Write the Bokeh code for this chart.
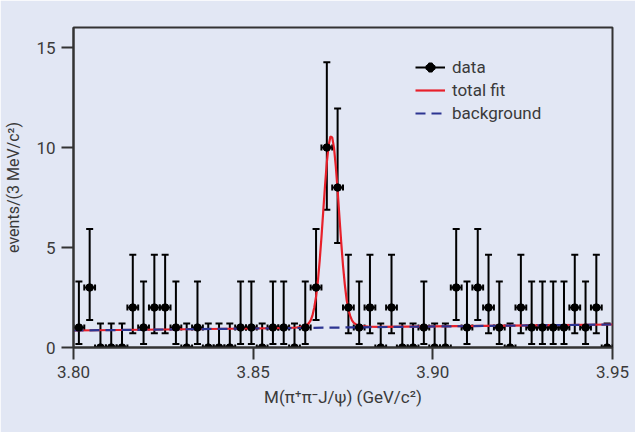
from bokeh.plotting import figure
from bokeh.models import (Range1d, FixedTicker, PrintfTickFormatter, Legend, LegendItem,
                          ColumnDataSource, Whisker, TeeHead)
from bokeh.embed import file_html
from bokeh.resources import INLINE

# ---------------- data ----------------
bin_low = 3.800
bin_width = 0.003
counts = [1, 3, 0, 0, 0, 2, 1, 2, 2, 1,
          0, 1, 0, 0, 0, 1, 1, 0, 1, 1,
          0, 1, 3, 10, 8, 2, 1, 2, 0, 2,
          0, 0, 1, 0, 0, 3, 1, 3, 2, 1,
          0, 2, 1, 1, 1, 1, 2, 1, 2, 0]
# asymmetric (Poisson-like) error sizes, per count value
err_lo_by_count = {0: 0.0, 1: 0.83, 2: 1.29, 3: 1.63, 8: 2.77, 10: 3.11}
err_hi_by_count = {0: 1.2, 1: 2.30, 2: 2.64, 3: 2.92, 8: 3.95, 10: 4.26}

# total fit curve
fit_mass = [3.800, 3.850, 3.860, 3.862, 3.863, 3.864, 3.865, 3.8655, 3.866, 3.8665,
            3.867, 3.8675, 3.868, 3.8685, 3.869, 3.8695, 3.870, 3.8705, 3.871, 3.8715,
            3.872, 3.8725, 3.873, 3.8735, 3.874, 3.8745, 3.875, 3.8755, 3.876, 3.8765,
            3.877, 3.8775, 3.878, 3.879, 3.880, 3.882, 3.885, 3.950]
fit_total = [0.85, 0.95, 0.98, 1.00, 1.02, 1.06, 1.13, 1.22, 1.36, 1.60,
             2.00, 2.54, 3.30, 4.32, 5.50, 6.81, 8.10, 9.26, 10.10, 10.55,
             10.50, 9.98, 9.05, 7.86, 6.55, 5.27, 4.10, 3.16, 2.40, 1.89,
             1.58, 1.36, 1.23, 1.12, 1.07, 1.04, 1.03, 1.15]
# background line
bkg_mass = [3.800, 3.950]
bkg_value = [0.85, 1.15]

x_ticks = [3.80, 3.85, 3.90, 3.95]
y_ticks = [0, 5, 10, 15]

# ---------------- derived columns ----------------
centers = [bin_low + bin_width * (i + 0.5) for i in range(len(counts))]
src = ColumnDataSource(dict(
    x=centers,
    y=counts,
    ylo=[c - err_lo_by_count[c] for c in counts],
    yhi=[c + err_hi_by_count[c] for c in counts],
    xlo=[x - bin_width / 2 for x in centers],
    xhi=[x + bin_width / 2 for x in centers],
))

BG = "#e2e7f4"
TXT = "#3a3a3a"
FONT = "Roboto"

p = figure(width=635, height=432, output_backend="svg", toolbar_location=None,
           x_range=Range1d(3.80, 3.95), y_range=Range1d(0, 16),
           min_border_left=73, min_border_right=23, min_border_top=27, min_border_bottom=85)
p.background_fill_color = BG
p.border_fill_color = BG
p.outline_line_color = "#333333"
p.outline_line_width = 2
p.grid.visible = False

# axes
for ax in (p.xaxis[0], p.yaxis[0]):
    ax.axis_line_color = "#333333"
    ax.axis_line_width = 2
    ax.major_tick_line_color = "#333333"
    ax.major_tick_line_width = 2
    ax.major_tick_in = 0
    ax.major_tick_out = 12
    ax.minor_tick_line_color = None
    ax.major_label_text_font = FONT
    ax.major_label_text_font_size = "17px"
    ax.major_label_text_color = TXT
    ax.axis_label_text_font = FONT
    ax.axis_label_text_font_style = "normal"
    ax.axis_label_text_color = TXT

p.xaxis.ticker = FixedTicker(ticks=x_ticks)
p.xaxis.formatter = PrintfTickFormatter(format="%.2f")
p.xaxis.major_label_standoff = 6
p.xaxis.axis_label = "M(π⁺π⁻J/ψ) (GeV/c²)"
p.xaxis.axis_label_text_font_size = "17px"
p.xaxis.axis_label_standoff = 6

p.yaxis.ticker = FixedTicker(ticks=y_ticks)
p.yaxis.major_label_standoff = 6
p.yaxis.axis_label = "events/(3 MeV/c²)"
p.yaxis.axis_label_text_font_size = "16px"
p.yaxis.axis_label_standoff = 10

# fit lines
r_fit = p.line(fit_mass, fit_total, line_color="#e8202a", line_width=2.2)
r_bkg = p.line(bkg_mass, bkg_value, line_color="#2c3591", line_width=2.2, line_dash="10 6")

# error bars
vw = Whisker(source=src, base="x", lower="ylo", upper="yhi", dimension="height",
             line_color="black", line_width=2,
             upper_head=TeeHead(size=7, line_color="black", line_width=2),
             lower_head=TeeHead(size=7, line_color="black", line_width=2))
hw = Whisker(source=src, base="y", lower="xlo", upper="xhi", dimension="width",
             line_color="black", line_width=2,
             upper_head=TeeHead(size=6, line_color="black", line_width=2),
             lower_head=TeeHead(size=6, line_color="black", line_width=2))
p.add_layout(vw)
p.add_layout(hw)
r_pts = p.scatter("x", "y", source=src, size=7.5, color="black")

# legend-only proxies (a single NaN point, never drawn in the plot area)
nan = float("nan")
proxy_h = p.line([nan, nan], [nan, nan], line_color="black", line_width=2)
proxy_plus = p.scatter([nan], [nan], marker="plus", size=17, line_color="black",
                       line_width=2, fill_color=None)

legend = Legend(items=[
    LegendItem(label="data", renderers=[proxy_h, proxy_plus, r_pts]),
    LegendItem(label="total fit", renderers=[r_fit]),
    LegendItem(label="background", renderers=[r_bkg]),
], location=(342, 224))
legend.background_fill_alpha = 0
legend.border_line_color = None
legend.label_text_font = FONT
legend.label_text_font_size = "17px"
legend.label_text_color = TXT
legend.glyph_width = 30
legend.glyph_height = 20
legend.label_height = 20
legend.label_standoff = 7
legend.spacing = 3
legend.padding = 0
legend.margin = 0
p.add_layout(legend)

open("out.html", "w").write(file_html(p, INLINE))
